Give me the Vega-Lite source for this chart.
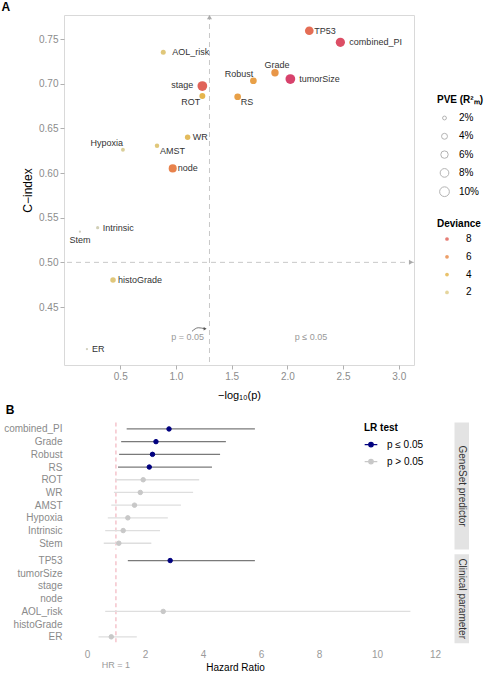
{
  "$schema": "https://vega.github.io/schema/vega-lite/v6.json",
  "padding": {"left": 1, "top": 0, "right": 0, "bottom": 0},
  "config": {
    "font": "Liberation Sans",
    "view": {"stroke": null},
    "axis": {"labelFont": "Liberation Sans", "titleFont": "Liberation Sans", "labelColor": "#8c8c8c", "labelFontSize": 10, "titleFontWeight": "normal", "titleColor": "#000000", "grid": false, "domain": false, "tickColor": "#b0b0b0"},
    "legend": {"titleFont": "Liberation Sans", "labelFont": "Liberation Sans", "titleFontSize": 10, "labelFontSize": 10, "titleFontWeight": "bold", "titleColor": "#000000", "labelColor": "#000000", "padding": 0},
    "title": {"font": "Liberation Sans", "fontSize": 12, "fontWeight": "bold", "anchor": "start", "frame": "bounds", "color": "#000000"}
  },
  "datasets": {
    "pva": [
      {"name": "TP53", "nlp": 2.197, "cindex": 0.7593, "pve": 8, "dev": 7.5},
      {"name": "combined_PI", "nlp": 2.476, "cindex": 0.7463, "pve": 9, "dev": 9},
      {"name": "Grade", "nlp": 1.889, "cindex": 0.7123, "pve": 6, "dev": 5.5},
      {"name": "tumorSize", "nlp": 2.027, "cindex": 0.7052, "pve": 10, "dev": 9.6},
      {"name": "Robust", "nlp": 1.695, "cindex": 0.7033, "pve": 5, "dev": 5},
      {"name": "RS", "nlp": 1.554, "cindex": 0.6854, "pve": 5, "dev": 5},
      {"name": "stage", "nlp": 1.237, "cindex": 0.6974, "pve": 10, "dev": 8},
      {"name": "ROT", "nlp": 1.237, "cindex": 0.6863, "pve": 4, "dev": 4},
      {"name": "AOL_risk", "nlp": 0.886, "cindex": 0.7351, "pve": 3, "dev": 2.5},
      {"name": "WR", "nlp": 1.105, "cindex": 0.64, "pve": 3.5, "dev": 3.5},
      {"name": "AMST", "nlp": 0.83, "cindex": 0.6306, "pve": 2.5, "dev": 2.5},
      {"name": "Hypoxia", "nlp": 0.524, "cindex": 0.6261, "pve": 2, "dev": 1.5},
      {"name": "node", "nlp": 0.971, "cindex": 0.6052, "pve": 7, "dev": 6.5},
      {"name": "Stem", "nlp": 0.138, "cindex": 0.5343, "pve": 1, "dev": 0.3},
      {"name": "Intrinsic", "nlp": 0.297, "cindex": 0.5388, "pve": 1.5, "dev": 0.6},
      {"name": "histoGrade", "nlp": 0.435, "cindex": 0.4802, "pve": 3.5, "dev": 2.5},
      {"name": "ER", "nlp": 0.201, "cindex": 0.403, "pve": 1, "dev": 0.4}
    ],
    "forest": [
      {"name": "combined_PI", "grp": "GeneSet predictor", "hr": 2.83, "lo": 1.37, "hi": 5.79, "sig": "p ≤ 0.05"},
      {"name": "Grade", "grp": "GeneSet predictor", "hr": 2.38, "lo": 1.18, "hi": 4.79, "sig": "p ≤ 0.05"},
      {"name": "Robust", "grp": "GeneSet predictor", "hr": 2.26, "lo": 1.11, "hi": 4.59, "sig": "p ≤ 0.05"},
      {"name": "RS", "grp": "GeneSet predictor", "hr": 2.15, "lo": 1.07, "hi": 4.31, "sig": "p ≤ 0.05"},
      {"name": "ROT", "grp": "GeneSet predictor", "hr": 1.94, "lo": 0.98, "hi": 3.87, "sig": "p > 0.05"},
      {"name": "WR", "grp": "GeneSet predictor", "hr": 1.84, "lo": 0.93, "hi": 3.66, "sig": "p > 0.05"},
      {"name": "AMST", "grp": "GeneSet predictor", "hr": 1.64, "lo": 0.84, "hi": 3.24, "sig": "p > 0.05"},
      {"name": "Hypoxia", "grp": "GeneSet predictor", "hr": 1.41, "lo": 0.72, "hi": 2.79, "sig": "p > 0.05"},
      {"name": "Intrinsic", "grp": "GeneSet predictor", "hr": 1.25, "lo": 0.63, "hi": 2.52, "sig": "p > 0.05"},
      {"name": "Stem", "grp": "GeneSet predictor", "hr": 1.1, "lo": 0.58, "hi": 2.22, "sig": "p > 0.05"},
      {"name": "TP53", "grp": "Clinical parameter", "hr": 2.87, "lo": 1.41, "hi": 5.79, "sig": "p ≤ 0.05"},
      {"name": "tumorSize", "grp": "Clinical parameter", "hr": null, "lo": null, "hi": null, "sig": null},
      {"name": "stage", "grp": "Clinical parameter", "hr": null, "lo": null, "hi": null, "sig": null},
      {"name": "node", "grp": "Clinical parameter", "hr": null, "lo": null, "hi": null, "sig": null},
      {"name": "AOL_risk", "grp": "Clinical parameter", "hr": 2.63, "lo": 0.63, "hi": 11.15, "sig": "p > 0.05"},
      {"name": "histoGrade", "grp": "Clinical parameter", "hr": null, "lo": null, "hi": null, "sig": null},
      {"name": "ER", "grp": "Clinical parameter", "hr": 0.84, "lo": 0.4, "hi": 1.72, "sig": "p > 0.05"}
    ]
  },
  "spacing": 2.6,
  "resolve": {
    "scale": {"x": "independent", "y": "independent", "color": "independent", "size": "independent", "fill": "independent", "stroke": "independent"},
    "legend": {"color": "independent", "size": "independent", "fill": "independent", "stroke": "independent"}
  },
  "vconcat": [
    {
      "title": {"text": "A", "dx": -20, "offset": 1},
      "width": 350,
      "height": 350,
      "view": {"stroke": "#d9d9d9"},
      "data": {"name": "pva"},
      "layer": [
        {
          "data": {"values": [{}]},
          "mark": {"type": "rule", "color": "#c8c8c8", "strokeDash": [5, 4], "strokeWidth": 1},
          "encoding": {"y": {"datum": 0.5, "type": "quantitative"}}
        },
        {
          "data": {"values": [{}]},
          "mark": {"type": "rule", "color": "#c8c8c8", "strokeDash": [5, 4], "strokeWidth": 1},
          "encoding": {"x": {"datum": 1.301, "type": "quantitative"}}
        },
        {
          "data": {"values": [{}]},
          "mark": {"type": "point", "shape": "triangle-right", "filled": true, "color": "#aaaaaa", "size": 25, "opacity": 1},
          "encoding": {"x": {"datum": 3.111, "type": "quantitative"}, "y": {"datum": 0.5, "type": "quantitative"}}
        },
        {
          "data": {"values": [{}]},
          "mark": {"type": "point", "shape": "triangle-up", "filled": true, "color": "#aaaaaa", "size": 25, "opacity": 1},
          "encoding": {"x": {"datum": 1.301, "type": "quantitative"}, "y": {"datum": 0.7745, "type": "quantitative"}}
        },
        {
          "mark": {"type": "point", "filled": true, "opacity": 0.9},
          "encoding": {
            "x": {"field": "nlp", "type": "quantitative", "scale": {"domain": [-0.005, 3.137], "nice": false, "zero": false},
                  "axis": {"title": "−log₁₀(p)", "values": [0.5, 1, 1.5, 2, 2.5, 3], "format": ".1f", "tickSize": 4, "labelPadding": 2, "titleFontSize": 11, "titlePadding": 8}},
            "y": {"field": "cindex", "type": "quantitative", "scale": {"domain": [0.3851, 0.7769], "nice": false, "zero": false},
                  "axis": {"title": "C−index", "values": [0.45, 0.5, 0.55, 0.6, 0.65, 0.7, 0.75], "format": ".2f", "tickSize": 4, "labelPadding": 2, "titleFontSize": 12, "titlePadding": 4}},
            "size": {"field": "pve", "type": "quantitative", "scale": {"domain": [1, 10], "range": [5, 95], "zero": false},
                     "legend": {"title": "PVE (R²ₘ)", "values": [2, 4, 6, 8, 10], "labelExpr": "datum.label + '%'", "orient": "none", "legendX": 373, "legendY": 80, "titlePadding": 8, "symbolFillColor": "transparent", "symbolStrokeColor": "#b3b3b3", "symbolStrokeWidth": 1, "gridAlign": "all", "rowPadding": 3.3, "symbolOffset": 2, "labelOffset": 9, "symbolOpacity": 1}},
            "color": {"field": "dev", "type": "quantitative", "scale": {"domain": [0, 2, 4, 6, 8, 10], "range": ["#c9c9c2", "#dcc77c", "#e2ad3a", "#e67f35", "#dd5247", "#cf2461"]},
                      "legend": {"title": "Deviance", "type": "symbol", "values": [8, 6, 4, 2], "orient": "none", "legendX": 373, "legendY": 204, "symbolSize": 14, "rowPadding": 7.8, "symbolOffset": 5, "labelOffset": 14, "symbolOpacity": 0.75}}
          }
        },
        {
          "transform": [{"filter": {"field": "name", "oneOf": ["TP53", "WR", "node", "Intrinsic", "histoGrade", "ER"]}}],
          "mark": {"type": "text", "align": "left", "baseline": "middle", "dx": 5, "fontSize": 9, "color": "#333333"},
          "encoding": {"x": {"field": "nlp", "type": "quantitative"}, "y": {"field": "cindex", "type": "quantitative"}, "text": {"field": "name"}}
        },
        {
          "transform": [{"filter": {"field": "name", "oneOf": ["combined_PI", "tumorSize", "AOL_risk"]}}],
          "mark": {"type": "text", "align": "left", "baseline": "middle", "dx": 9, "fontSize": 9, "color": "#333333"},
          "encoding": {"x": {"field": "nlp", "type": "quantitative"}, "y": {"field": "cindex", "type": "quantitative"}, "text": {"field": "name"}}
        },
        {
          "transform": [{"filter": {"field": "name", "oneOf": ["Grade"]}}],
          "mark": {"type": "text", "align": "center", "baseline": "middle", "dx": 2, "dy": -8, "fontSize": 9, "color": "#333333"},
          "encoding": {"x": {"field": "nlp", "type": "quantitative"}, "y": {"field": "cindex", "type": "quantitative"}, "text": {"field": "name"}}
        },
        {
          "transform": [{"filter": {"field": "name", "oneOf": ["Robust", "Hypoxia"]}}],
          "mark": {"type": "text", "align": "right", "baseline": "middle", "dx": 0, "dy": -6.5, "fontSize": 9, "color": "#333333"},
          "encoding": {"x": {"field": "nlp", "type": "quantitative"}, "y": {"field": "cindex", "type": "quantitative"}, "text": {"field": "name"}}
        },
        {
          "transform": [{"filter": {"field": "name", "oneOf": ["RS", "AMST"]}}],
          "mark": {"type": "text", "align": "left", "baseline": "middle", "dx": 3, "dy": 5, "fontSize": 9, "color": "#333333"},
          "encoding": {"x": {"field": "nlp", "type": "quantitative"}, "y": {"field": "cindex", "type": "quantitative"}, "text": {"field": "name"}}
        },
        {
          "transform": [{"filter": {"field": "name", "oneOf": ["stage"]}}],
          "mark": {"type": "text", "align": "right", "baseline": "middle", "dx": -9, "dy": -1, "fontSize": 9, "color": "#333333"},
          "encoding": {"x": {"field": "nlp", "type": "quantitative"}, "y": {"field": "cindex", "type": "quantitative"}, "text": {"field": "name"}}
        },
        {
          "transform": [{"filter": {"field": "name", "oneOf": ["ROT"]}}],
          "mark": {"type": "text", "align": "right", "baseline": "middle", "dx": -2, "dy": 6, "fontSize": 9, "color": "#333333"},
          "encoding": {"x": {"field": "nlp", "type": "quantitative"}, "y": {"field": "cindex", "type": "quantitative"}, "text": {"field": "name"}}
        },
        {
          "transform": [{"filter": {"field": "name", "oneOf": ["Stem"]}}],
          "mark": {"type": "text", "align": "center", "baseline": "middle", "dy": 8, "fontSize": 9, "color": "#333333"},
          "encoding": {"x": {"field": "nlp", "type": "quantitative"}, "y": {"field": "cindex", "type": "quantitative"}, "text": {"field": "name"}}
        },
        {
          "data": {"values": [{}]},
          "mark": {"type": "text", "text": "p = 0.05", "align": "right", "baseline": "middle", "fontSize": 9, "color": "#999999"},
          "encoding": {"x": {"datum": 1.252, "type": "quantitative"}, "y": {"datum": 0.4167, "type": "quantitative"}}
        },
        {
          "data": {"values": [{}]},
          "mark": {"type": "text", "text": "p ≤ 0.05", "align": "center", "baseline": "middle", "fontSize": 9, "color": "#999999"},
          "encoding": {"x": {"datum": 2.213, "type": "quantitative"}, "y": {"datum": 0.4167, "type": "quantitative"}}
        },
        {
          "data": {"values": [{"ax": 1.144, "ay": 0.4228}, {"ax": 1.2, "ay": 0.4268}, {"ax": 1.255, "ay": 0.4258}]},
          "mark": {"type": "line", "interpolate": "monotone", "color": "#555555", "strokeWidth": 0.8},
          "encoding": {"x": {"field": "ax", "type": "quantitative"}, "y": {"field": "ay", "type": "quantitative"}}
        },
        {
          "data": {"values": [{}]},
          "mark": {"type": "point", "shape": "triangle-right", "filled": true, "color": "#555555", "size": 12, "opacity": 1},
          "encoding": {"x": {"datum": 1.262, "type": "quantitative"}, "y": {"datum": 0.4256, "type": "quantitative"}}
        }
      ]
    },
    {
      "title": {"text": "B", "dx": 2, "offset": 5},
      "width": 405,
      "height": 127,
      "data": {"name": "forest"},
      "layer": [
        {
          "data": {"values": [{}]},
          "mark": {"type": "rule", "color": "#f2b5bf", "strokeDash": [4, 3], "strokeWidth": 1.2},
          "encoding": {"x": {"datum": 1, "type": "quantitative", "axis": null}}
        },
        {
          "transform": [{"filter": "datum.grp === 'GeneSet predictor'"}],
          "mark": {"type": "rule", "strokeWidth": 1.3},
          "encoding": {
            "x": {"field": "lo", "type": "quantitative", "scale": {"domain": [-0.79, 13.17], "nice": false, "zero": false}, "axis": null},
            "x2": {"field": "hi"},
            "y": {"field": "name", "type": "nominal", "scale": {"type": "point", "domain": ["combined_PI", "Grade", "Robust", "RS", "ROT", "WR", "AMST", "Hypoxia", "Intrinsic", "Stem"], "padding": 0.5},
                  "axis": {"title": null, "ticks": false, "labelPadding": 2, "labelColor": "#8a8a8a", "labelFontSize": 10}},
            "color": {"condition": {"test": "datum.sig === 'p ≤ 0.05'", "value": "#7a7a7a"}, "value": "#dedede"}
          }
        },
        {
          "transform": [{"filter": "datum.grp === 'GeneSet predictor'"}],
          "mark": {"type": "point", "filled": true, "size": 20, "opacity": 1, "strokeWidth": 1},
          "encoding": {
            "x": {"field": "hr", "type": "quantitative", "axis": null},
            "y": {"field": "name", "type": "nominal"},
            "fill": {"field": "sig", "type": "nominal", "scale": {"domain": ["p ≤ 0.05", "p > 0.05"], "range": ["#00007f", "#c8c8c8"]},
                     "legend": {"title": "LR test", "orient": "none", "legendX": 300, "legendY": 0, "symbolType": "M-1,0H1M-0.35,0A0.35,0.35,0,1,0,0.35,0A0.35,0.35,0,1,0,-0.35,0Z", "symbolSize": 160, "symbolStrokeWidth": 1.3, "rowPadding": 5, "labelOffset": 9}},
            "stroke": {"field": "sig", "type": "nominal", "scale": {"domain": ["p ≤ 0.05", "p > 0.05"], "range": ["#00007f", "#c8c8c8"]},
                       "legend": {"title": "LR test", "orient": "none", "legendX": 300, "legendY": 0, "symbolType": "M-1,0H1M-0.35,0A0.35,0.35,0,1,0,0.35,0A0.35,0.35,0,1,0,-0.35,0Z", "symbolSize": 160, "symbolStrokeWidth": 1.3, "rowPadding": 5, "labelOffset": 9}}
          }
        },
        {
          "data": {"values": [{"p": "GeneSet predictor"}]},
          "mark": {"type": "rect", "color": "#e3e3e3"},
          "encoding": {"x": {"datum": 12.67, "type": "quantitative", "axis": null}, "x2": {"datum": 13.17}}
        },
        {
          "data": {"values": [{"p": "GeneSet predictor"}]},
          "mark": {"type": "text", "angle": 90, "fontSize": 10, "color": "#333333", "align": "center", "baseline": "middle"},
          "encoding": {"x": {"datum": 12.92, "type": "quantitative", "axis": null}, "text": {"field": "p"}}
        }
      ]
    },
    {
      "width": 405,
      "height": 89,
      "data": {"name": "forest"},
      "layer": [
        {
          "data": {"values": [{}]},
          "mark": {"type": "rule", "color": "#f2b5bf", "strokeDash": [4, 3], "strokeWidth": 1.2},
          "encoding": {"x": {"datum": 1, "type": "quantitative"}}
        },
        {
          "transform": [{"filter": "datum.grp === 'Clinical parameter'"}],
          "mark": {"type": "rule", "strokeWidth": 1.3},
          "encoding": {
            "x": {"field": "lo", "type": "quantitative", "scale": {"domain": [-0.79, 13.17], "nice": false, "zero": false},
                  "axis": {"title": "Hazard Ratio", "values": [0, 2, 4, 6, 8, 10, 12], "ticks": false, "labelPadding": 6, "labelColor": "#9a9a9a", "titleFontSize": 10, "titlePadding": 3, "titleX": 171}},
            "x2": {"field": "hi"},
            "y": {"field": "name", "type": "nominal", "scale": {"type": "point", "domain": ["TP53", "tumorSize", "stage", "node", "AOL_risk", "histoGrade", "ER"], "padding": 0.5},
                  "axis": {"title": null, "ticks": false, "labelPadding": 2, "labelColor": "#8a8a8a", "labelFontSize": 10}},
            "color": {"condition": {"test": "datum.sig === 'p ≤ 0.05'", "value": "#7a7a7a"}, "value": "#dedede"}
          }
        },
        {
          "transform": [{"filter": "datum.grp === 'Clinical parameter'"}],
          "mark": {"type": "point", "filled": true, "size": 20, "opacity": 1, "strokeWidth": 1},
          "encoding": {
            "x": {"field": "hr", "type": "quantitative"},
            "y": {"field": "name", "type": "nominal"},
            "fill": {"field": "sig", "type": "nominal", "scale": {"domain": ["p ≤ 0.05", "p > 0.05"], "range": ["#00007f", "#c8c8c8"]}, "legend": null},
            "stroke": {"field": "sig", "type": "nominal", "scale": {"domain": ["p ≤ 0.05", "p > 0.05"], "range": ["#00007f", "#c8c8c8"]}, "legend": null}
          }
        },
        {
          "data": {"values": [{}]},
          "mark": {"type": "text", "text": "HR = 1", "fontSize": 9, "color": "#999999", "align": "center", "baseline": "middle", "dy": 28},
          "encoding": {"x": {"datum": 1, "type": "quantitative"}, "y": {"datum": "ER", "type": "nominal"}}
        },
        {
          "data": {"values": [{"p": "Clinical parameter"}]},
          "mark": {"type": "rect", "color": "#e3e3e3"},
          "encoding": {"x": {"datum": 12.67, "type": "quantitative"}, "x2": {"datum": 13.17}}
        },
        {
          "data": {"values": [{"p": "Clinical parameter"}]},
          "mark": {"type": "text", "angle": 90, "fontSize": 10, "color": "#333333", "align": "center", "baseline": "middle"},
          "encoding": {"x": {"datum": 12.92, "type": "quantitative"}, "text": {"field": "p"}}
        }
      ]
    }
  ]
}
